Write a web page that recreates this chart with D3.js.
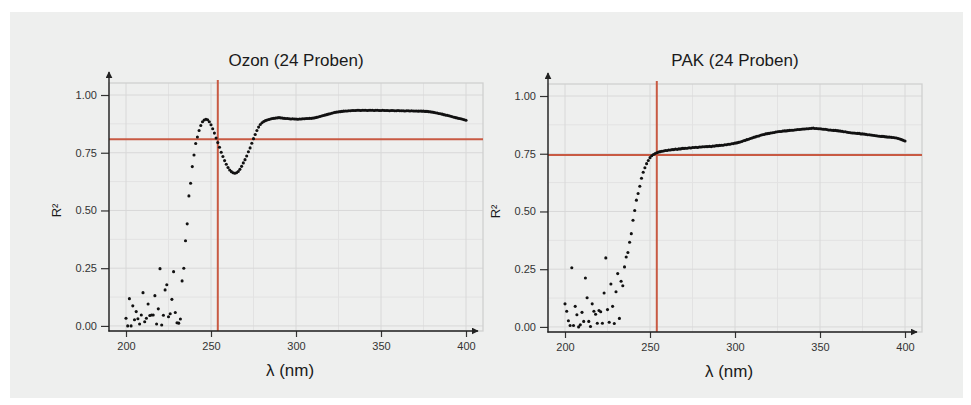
<!DOCTYPE html>
<html>
<head>
<meta charset="utf-8">
<script src="https://cdn.jsdelivr.net/npm/d3@7"></script>
<style>
  body { margin: 0; background: #fff; }
  svg { display: block; font-family: "Liberation Sans", Arial, sans-serif; }
</style>
</head>
<body>
<svg id="chart" width="971" height="405"></svg>
<script>
// wavelength grid, 1 nm steps
var wavelengths = d3.range(200, 401);

var titles = ['Ozon (24 Proben)', 'PAK (24 Proben)'];

// R² per wavelength, 200..400 nm
var ozon = [
  0.033, 0.000, 0.118, 0.000, 0.087, 0.027, 0.062, 0.031, 0.008, 0.047,
  0.144, 0.018, 0.033, 0.095, 0.045, 0.047, 0.047, 0.131, 0.008, 0.074,
  0.248, 0.004, 0.046, 0.156, 0.178, 0.040, 0.053, 0.115, 0.235, 0.058,
  0.014, 0.012, 0.030, 0.195, 0.250, 0.369, 0.442, 0.563, 0.618, 0.690,
  0.740, 0.790, 0.818, 0.846, 0.868, 0.884, 0.892, 0.895, 0.893, 0.884,
  0.871, 0.854, 0.835, 0.814, 0.794, 0.774, 0.752, 0.734, 0.716, 0.700,
  0.686, 0.675, 0.668, 0.663, 0.661, 0.663, 0.669, 0.678, 0.691, 0.706,
  0.720, 0.736, 0.754, 0.771, 0.791, 0.811, 0.829, 0.846, 0.861, 0.872,
  0.880, 0.885, 0.889, 0.892, 0.894, 0.896, 0.898, 0.899, 0.900, 0.901,
  0.902, 0.901, 0.900, 0.899, 0.898, 0.898, 0.897, 0.896, 0.897, 0.896,
  0.896, 0.895, 0.896, 0.896, 0.897, 0.897, 0.898, 0.898, 0.899, 0.899,
  0.900, 0.901, 0.903, 0.905, 0.907, 0.909, 0.911, 0.913, 0.915, 0.917,
  0.919, 0.921, 0.923, 0.925, 0.926, 0.927, 0.928, 0.929, 0.930, 0.931,
  0.931, 0.932, 0.932, 0.933, 0.933, 0.933, 0.934, 0.934, 0.933, 0.934,
  0.934, 0.934, 0.933, 0.934, 0.934, 0.934, 0.933, 0.934, 0.934, 0.933,
  0.933, 0.934, 0.933, 0.933, 0.933, 0.932, 0.933, 0.933, 0.932, 0.932,
  0.933, 0.932, 0.932, 0.932, 0.931, 0.932, 0.932, 0.931, 0.932, 0.931,
  0.931, 0.931, 0.930, 0.931, 0.930, 0.930, 0.929, 0.929, 0.928, 0.927,
  0.926, 0.925, 0.923, 0.922, 0.920, 0.919, 0.917, 0.915, 0.913, 0.912,
  0.910, 0.908, 0.906, 0.904, 0.902, 0.900, 0.898, 0.897, 0.895, 0.893,
  0.891
];

var pak = [
  0.100, 0.068, 0.027, 0.006, 0.256, 0.006, 0.089, 0.053, 0.000, 0.009,
  0.063, 0.024, 0.212, 0.126, 0.024, 0.002, 0.100, 0.068, 0.055, 0.016,
  0.071, 0.066, 0.016, 0.147, 0.299, 0.075, 0.020, 0.186, 0.089, 0.015,
  0.152, 0.231, 0.037, 0.198, 0.178, 0.260, 0.303, 0.322, 0.367, 0.404,
  0.462, 0.504, 0.549, 0.578, 0.609, 0.644, 0.670, 0.689, 0.707, 0.721,
  0.733, 0.741, 0.747, 0.751, 0.754, 0.757, 0.759, 0.761, 0.762, 0.764,
  0.764, 0.766, 0.766, 0.768, 0.768, 0.770, 0.769, 0.771, 0.771, 0.773,
  0.773, 0.774, 0.774, 0.776, 0.775, 0.777, 0.777, 0.778, 0.777, 0.779,
  0.779, 0.780, 0.780, 0.781, 0.781, 0.782, 0.781, 0.783, 0.783, 0.785,
  0.785, 0.786, 0.787, 0.787, 0.789, 0.789, 0.791, 0.791, 0.793, 0.794,
  0.796, 0.797, 0.799, 0.801, 0.803, 0.806, 0.808, 0.811, 0.813, 0.816,
  0.818, 0.821, 0.823, 0.826, 0.827, 0.830, 0.832, 0.833, 0.836, 0.837,
  0.838, 0.840, 0.841, 0.842, 0.844, 0.845, 0.846, 0.846, 0.848, 0.849,
  0.849, 0.850, 0.851, 0.852, 0.852, 0.853, 0.854, 0.855, 0.855, 0.856,
  0.857, 0.857, 0.858, 0.858, 0.859, 0.860, 0.861, 0.859, 0.859, 0.858,
  0.858, 0.857, 0.856, 0.856, 0.855, 0.853, 0.853, 0.852, 0.851, 0.851,
  0.850, 0.849, 0.848, 0.847, 0.845, 0.845, 0.843, 0.842, 0.841, 0.840,
  0.840, 0.839, 0.838, 0.838, 0.836, 0.836, 0.835, 0.834, 0.832, 0.832,
  0.831, 0.830, 0.829, 0.828, 0.827, 0.826, 0.825, 0.825, 0.824, 0.823,
  0.822, 0.822, 0.821, 0.820, 0.819, 0.818, 0.816, 0.814, 0.811, 0.808,
  0.805
];

var series = [ozon, pak];

// red cut-off lines
var cutNm = [254, 254];
var cutR2 = [0.808, 0.744];

var xTicks = [200, 250, 300, 350, 400];
var xMinor = [225, 275, 325, 375];
var yTicks = [0, 0.25, 0.5, 0.75, 1];
var yMinor = [0.125, 0.375, 0.625, 0.875];

var svg = d3.select('#chart');
var pw = 374, ph = 248;
var lefts = [109, 548], tops = [83, 84];

svg.append('rect')
  .attr('x', 10).attr('y', 12)
  .attr('width', 953).attr('height', 386)
  .attr('fill', '#eeefee');

var defs = svg.append('defs');
defs.append('marker')
  .attr('id', 'arrow')
  .attr('viewBox', '0 0 10 10')
  .attr('refX', 9).attr('refY', 5)
  .attr('markerWidth', 7).attr('markerHeight', 7)
  .attr('markerUnits', 'userSpaceOnUse')
  .attr('orient', 'auto')
  .append('path')
  .attr('d', 'M0,0 L10,5 L0,10 z')
  .attr('fill', '#222');

series.forEach(function(values, i) {
  var left = lefts[i], top = tops[i];
  var g = svg.append('g');

  var x = d3.scaleLinear().domain([190, 410]).range([left, left + pw]);
  var y = d3.scaleLinear().domain([-0.022, 1.052]).range([top + ph, top]);

  // grid
  g.selectAll('.vminor').data(xMinor).enter().append('line')
    .attr('x1', function(d) { return x(d); })
    .attr('x2', function(d) { return x(d); })
    .attr('y1', top).attr('y2', top + ph)
    .attr('stroke', '#e2e2e2').attr('stroke-width', 1);
  g.selectAll('.hminor').data(yMinor).enter().append('line')
    .attr('y1', function(d) { return y(d); })
    .attr('y2', function(d) { return y(d); })
    .attr('x1', left).attr('x2', left + pw)
    .attr('stroke', '#e2e2e2').attr('stroke-width', 1);
  g.selectAll('.vmajor').data(xTicks).enter().append('line')
    .attr('x1', function(d) { return x(d); })
    .attr('x2', function(d) { return x(d); })
    .attr('y1', top).attr('y2', top + ph)
    .attr('stroke', '#d8d8d8').attr('stroke-width', 1);
  g.selectAll('.hmajor').data(yTicks).enter().append('line')
    .attr('y1', function(d) { return y(d); })
    .attr('y2', function(d) { return y(d); })
    .attr('x1', left).attr('x2', left + pw)
    .attr('stroke', '#d8d8d8').attr('stroke-width', 1);

  g.append('rect')
    .attr('x', left).attr('y', top)
    .attr('width', pw).attr('height', ph)
    .attr('fill', 'none')
    .attr('stroke', '#d0d0d0').attr('stroke-width', 1.3);

  // red lines
  g.append('line')
    .attr('x1', x(cutNm[i])).attr('x2', x(cutNm[i]))
    .attr('y1', top - 3).attr('y2', top + ph)
    .attr('stroke', '#c85a43').attr('stroke-width', 2);
  g.append('line')
    .attr('x1', left).attr('x2', left + pw)
    .attr('y1', y(cutR2[i])).attr('y2', y(cutR2[i]))
    .attr('stroke', '#c85a43').attr('stroke-width', 2);

  // points
  g.selectAll('circle')
    .data(values)
    .enter()
    .append('circle')
    .attr('cx', function(d, j) { return x(wavelengths[j]); })
    .attr('cy', function(d) { return y(d); })
    .attr('r', 1.55)
    .attr('fill', '#111');

  // axes
  var ya = g.append('g')
    .attr('transform', 'translate(' + left + ',0)')
    .call(d3.axisLeft(y).tickValues(yTicks).tickFormat(d3.format('.2f')).tickSize(8).tickPadding(4));
  var xa = g.append('g')
    .attr('transform', 'translate(0,' + (top + ph) + ')')
    .call(d3.axisBottom(x).tickValues(xTicks).tickFormat(d3.format('d')).tickSize(6).tickPadding(5));
  [ya, xa].forEach(function(a) {
    a.select('.domain').remove();
    a.selectAll('line').attr('stroke', '#333').attr('stroke-width', 1.2);
    a.selectAll('text').attr('fill', '#333').style('font-size', '11px');
  });

  g.append('line')
    .attr('x1', left).attr('x2', left)
    .attr('y1', top + ph + 0.6).attr('y2', top - 11)
    .attr('stroke', '#222').attr('stroke-width', 1.4)
    .attr('marker-end', 'url(#arrow)');
  g.append('line')
    .attr('x1', left - 0.6).attr('x2', left + 369)
    .attr('y1', top + ph).attr('y2', top + ph)
    .attr('stroke', '#222').attr('stroke-width', 1.4)
    .attr('marker-end', 'url(#arrow)');

  // labels
  g.append('text')
    .attr('x', left + pw / 2).attr('y', 66)
    .attr('text-anchor', 'middle')
    .style('font-size', '17px').attr('fill', '#1a1a1a')
    .text(titles[i]);
  g.append('text')
    .attr('x', left + pw / 2 - 6).attr('y', top + ph + 45)
    .attr('text-anchor', 'middle')
    .style('font-size', '17px').attr('fill', '#1a1a1a')
    .text('λ (nm)');
  g.append('text')
    .attr('transform', 'translate(' + (left - 48) + ',' + y(0.5) + ') rotate(-90)')
    .attr('text-anchor', 'middle')
    .style('font-size', '13px').attr('fill', '#1a1a1a')
    .text('R²');
});
</script>
</body>
</html>
